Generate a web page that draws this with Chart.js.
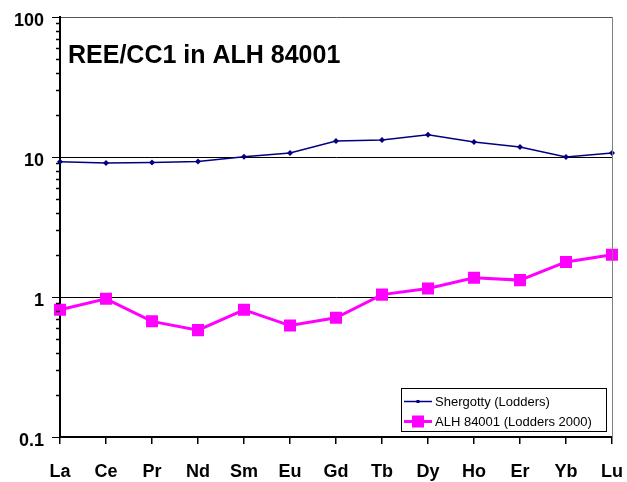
<!DOCTYPE html>
<html>
<head>
<meta charset="utf-8">
<script src="https://cdn.jsdelivr.net/npm/chart.js@4"></script>
<style>
  html, body { margin: 0; padding: 0; background: #fff; }
  #wrap { width: 627px; height: 482px; }
</style>
</head>
<body>
<div id="wrap"><canvas id="reeChart" width="627" height="482"></canvas></div>
<script>
const elements = ["La", "Ce", "Pr", "Nd", "Sm", "Eu", "Gd", "Tb", "Dy", "Ho", "Er", "Yb", "Lu"];
const shergotty = [9.25, 9.05, 9.15, 9.3, 10.05, 10.7, 13.0, 13.2, 14.4, 12.8, 11.8, 10.0, 10.7];
const alh84001 = [0.81, 0.97, 0.67, 0.58, 0.81, 0.625, 0.71, 1.04, 1.15, 1.37, 1.32, 1.78, 2.0];
const yTicks = [0.1, 1, 10, 100];
const titleText = "REE/CC1 in ALH 84001";

const FONT = "Arial, 'Liberation Sans', sans-serif";

// title, minor log ticks, right border and legend box drawn on top
const extras = {
  id: "extras",
  afterDraw(chart) {
    const ctx = chart.ctx;
    const area = chart.chartArea;
    const y = chart.scales.y;
    ctx.save();

    // right border of plot
    ctx.strokeStyle = "#808080";
    ctx.lineWidth = 1;
    ctx.beginPath();
    ctx.moveTo(area.right + 0.5, area.top);
    ctx.lineTo(area.right + 0.5, area.bottom);
    ctx.stroke();

    // minor ticks on the y axis
    ctx.strokeStyle = "#000";
    ctx.lineWidth = 1.5;
    for (let d = 0; d < yTicks.length - 1; d++) {
      for (let m = 2; m <= 9; m++) {
        const py = Math.round(y.getPixelForValue(yTicks[d] * m)) + 0.5;
        ctx.beginPath();
        ctx.moveTo(area.left - 4, py);
        ctx.lineTo(area.left, py);
        ctx.stroke();
      }
    }

    // title
    ctx.fillStyle = "#000";
    ctx.font = "bold 25px " + FONT;
    ctx.textBaseline = "alphabetic";
    ctx.textAlign = "left";
    ctx.fillText(titleText, area.left + 8, 63);

    // legend box
    const bx = 401, by = 388, bw = 205, bh = 43;
    ctx.fillStyle = "#fff";
    ctx.fillRect(bx, by, bw, bh);
    ctx.strokeStyle = "#000";
    ctx.lineWidth = 1;
    ctx.strokeRect(bx + 0.5, by + 0.5, bw, bh);
    ctx.font = "13px " + FONT;
    ctx.textBaseline = "middle";
    chart.data.datasets.forEach((ds, i) => {
      const cy = by + 13.5 + i * 20;
      ctx.strokeStyle = ds.borderColor;
      ctx.lineWidth = ds.borderWidth;
      ctx.beginPath();
      ctx.moveTo(bx + 3, cy);
      ctx.lineTo(bx + 31, cy);
      ctx.stroke();
      ctx.fillStyle = ds.pointBackgroundColor;
      const s = ds.legendMark;
      ctx.fillRect(bx + 17 - s / 2, cy - s / 2, s, s);
      ctx.fillStyle = "#000";
      ctx.fillText(ds.label, bx + 34, cy + 1);
    });
    ctx.restore();
  }
};

new Chart(document.getElementById("reeChart"), {
  type: "line",
  data: {
    labels: elements,
    datasets: [
      {
        label: "Shergotty (Lodders)",
        data: shergotty,
        borderColor: "#000080",
        backgroundColor: "#000080",
        pointBackgroundColor: "#000080",
        borderWidth: 1.5,
        pointStyle: "rectRot",
        pointRadius: 3,
        pointBorderWidth: 0,
        legendMark: 3
      },
      {
        label: "ALH 84001 (Lodders 2000)",
        data: alh84001,
        borderColor: "#ff00ff",
        backgroundColor: "#ff00ff",
        pointBackgroundColor: "#ff00ff",
        borderWidth: 3,
        pointStyle: "rect",
        pointRadius: 8.5,
        pointBorderWidth: 0,
        legendMark: 12
      }
    ]
  },
  options: {
    responsive: false,
    animation: false,
    layout: { padding: { top: 17, right: 15, left: 0, bottom: 0 } },
    plugins: {
      legend: { display: false },
      tooltip: { enabled: false }
    },
    scales: {
      x: {
        type: "category",
        offset: false,
        afterFit: (s) => { s.height = 45; s.paddingLeft = 0; s.paddingRight = 0; },
        grid: { drawOnChartArea: false, drawTicks: true, tickLength: 7, color: "#000", lineWidth: 1.5 },
        border: { color: "#000", width: 2 },
        ticks: { color: "#000", font: { family: FONT, size: 18, weight: "bold" }, padding: 17, maxRotation: 0, autoSkip: false }
      },
      y: {
        type: "logarithmic",
        min: 0.1,
        max: 100,
        afterFit: (s) => { s.width = 60; s.paddingTop = 0; s.paddingBottom = 0; },
        afterBuildTicks: (scale) => { scale.ticks = yTicks.map(v => ({ value: v })); },
        grid: {
          color: (c) => c.tick && c.tick.value === 100 ? "#555" : "#000",
          tickColor: "#000",
          lineWidth: 1,
          tickLength: 8
        },
        border: { color: "#000", width: 2 },
        ticks: {
          color: "#000",
          font: { family: FONT, size: 18, weight: "bold" },
          padding: 8,
          labelOffset: 4,
          callback: (v) => String(v)
        }
      }
    }
  },
  plugins: [extras]
});
</script>
</body>
</html>
